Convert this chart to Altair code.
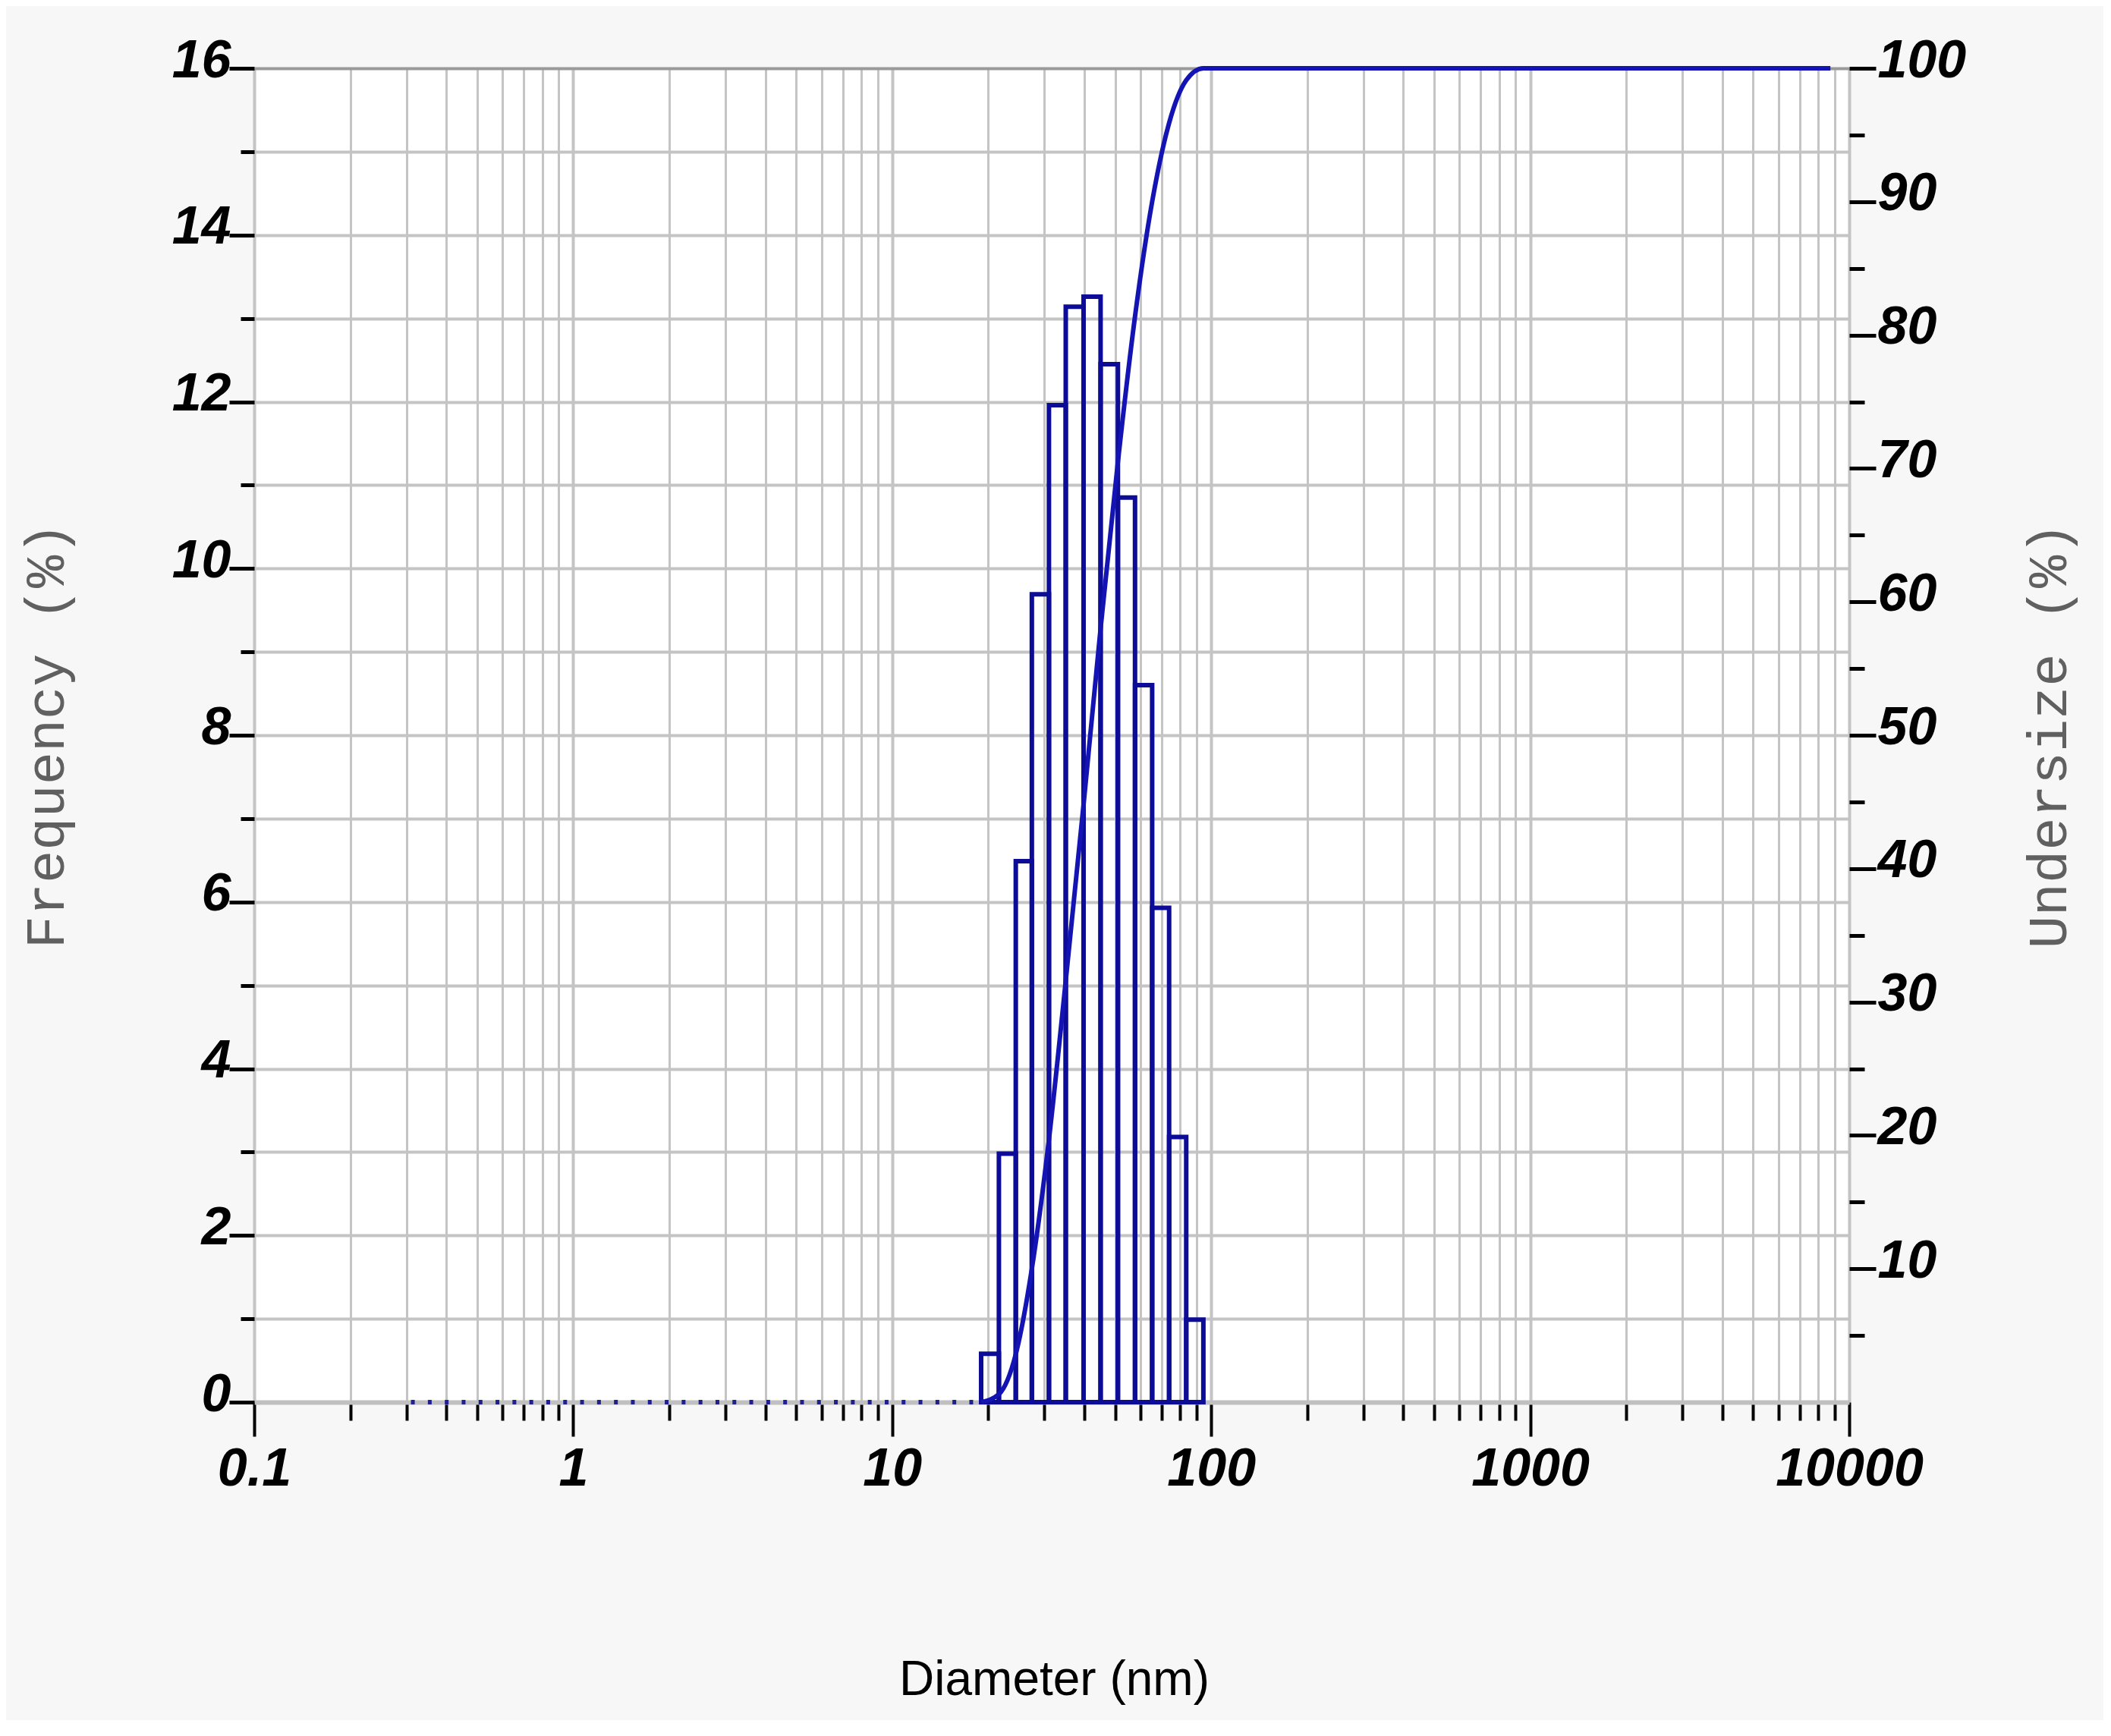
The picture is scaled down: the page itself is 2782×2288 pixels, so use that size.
import altair as alt
import pandas as pd

# ---- data ----
bin_lower = [19.0, 21.6, 24.4, 27.4, 31.0, 35.0, 39.8, 45.0, 51.0, 57.7, 65.3, 73.8, 83.5]
bin_upper = [21.6, 24.4, 27.4, 31.0, 35.0, 39.8, 45.0, 51.0, 57.7, 65.3, 73.8, 83.5, 94.5]
frequency = [0.58, 2.98, 6.49, 9.69, 11.96, 13.14, 13.26, 12.45, 10.85, 8.60, 5.93, 3.18, 0.99]

curve_diameter = [19.0, 21.6, 24.4, 27.4, 31.0, 35.0, 39.8, 45.0, 51.0, 57.7, 65.3, 73.8, 83.5, 94.5, 8730.0]
undersize = [0.0, 0.6, 3.6, 10.0, 19.7, 31.6, 44.8, 58.0, 70.5, 81.4, 90.0, 95.9, 99.1, 100.0, 100.0]

empty_start = [0.31]
empty_end = [19.0]

x_tick_values = [
    0.1, 0.2, 0.3, 0.4, 0.5, 0.6, 0.7, 0.8, 0.9,
    1, 2, 3, 4, 5, 6, 7, 8, 9,
    10, 20, 30, 40, 50, 60, 70, 80, 90,
    100, 200, 300, 400, 500, 600, 700, 800, 900,
    1000, 2000, 3000, 4000, 5000, 6000, 7000, 8000, 9000,
    10000,
]
left_tick_values = list(range(0, 17))
right_tick_values = [5, 10, 15, 20, 25, 30, 35, 40, 45, 50, 55, 60, 65, 70, 75, 80, 85, 90, 95, 100]

bars_df = pd.DataFrame({"lower": bin_lower, "upper": bin_upper, "freq": frequency})
curve_df = pd.DataFrame({"d": curve_diameter, "undersize": undersize})
empty_df = pd.DataFrame({"start": empty_start, "end": empty_end})

NUM_FONT = "Liberation Sans Narrow, Liberation Sans, Arial"
MONO_FONT = "Liberation Mono, DejaVu Sans Mono, monospace"
PLOT_W, PLOT_H = 2102, 1758
NUM_SIZE = 70

major_x = "indexof([0.1, 1, 10, 100, 1000, 10000], datum.value) >= 0"

x_scale = alt.Scale(type="log", domain=[0.1, 10000], nice=False)
x_axis = alt.Axis(
    values=x_tick_values,
    format="~g",
    labelExpr=major_x + " ? datum.label : ''",
    labelOverlap=False,
    labelFlush=False,
    labelLimit=600,
    labelFont=NUM_FONT,
    labelFontSize=NUM_SIZE,
    labelFontWeight="bold",
    labelFontStyle="italic",
    labelColor="black",
    labelPadding=9,
    labelBaseline="top",
    tickColor="black",
    tickWidth=4,
    tickSize={"condition": {"test": major_x, "value": 45}, "value": 24},
    grid=True,
    gridColor="#c4c4c4",
    gridWidth={"condition": {"test": major_x, "value": 4}, "value": 3},
    domain=True,
    domainColor="#c0c0c0",
    domainWidth=6,
    title="Diameter (nm)",
    titleFont=NUM_FONT,
    titleFontSize=64,
    titleFontWeight="normal",
    titleColor="black",
    titleBaseline="alphabetic",
    titleAlign="center",
    titleX=PLOT_W / 2 + 3,
    titleY=385,
)

left_axis = alt.Axis(
    orient="left",
    values=left_tick_values,
    format="d",
    labelExpr="datum.value % 2 == 0 ? datum.label : ''",
    labelOverlap=False,
    labelLimit=600,
    labelFont=NUM_FONT,
    labelFontSize=NUM_SIZE,
    labelFontWeight="bold",
    labelFontStyle="italic",
    labelColor="black",
    labelPadding=-2,
    labelBaseline="middle",
    labelOffset=-10,
    tickColor="black",
    tickWidth=5,
    tickSize={"condition": {"test": "datum.value % 2 == 0", "value": 33}, "value": 18},
    grid=True,
    gridColor={"condition": {"test": "datum.value == 16", "value": "#9a9a9a"}, "value": "#c4c4c4"},
    gridWidth=4,
    domain=False,
    title="Frequency (%)",
    titleFont=MONO_FONT,
    titleFontSize=72,
    titleFontWeight="normal",
    titleColor="#606060",
    titleAngle=270,
    titleBaseline="alphabetic",
    titleAlign="center",
    titleX=-252,
    titleY=PLOT_H / 2,
)

right_axis = alt.Axis(
    orient="right",
    values=right_tick_values,
    format="d",
    labelExpr="datum.value % 10 == 0 ? datum.label : ''",
    labelOverlap=False,
    labelLimit=600,
    labelFont=NUM_FONT,
    labelFontSize=NUM_SIZE,
    labelFontWeight="bold",
    labelFontStyle="italic",
    labelColor="black",
    labelPadding=2,
    labelBaseline="middle",
    labelOffset=-10,
    tickColor="black",
    tickWidth=5,
    tickSize={"condition": {"test": "datum.value % 10 == 0", "value": 35}, "value": 20},
    grid=False,
    domain=False,
    title="Undersize (%)",
    titleFont=MONO_FONT,
    titleFontSize=72,
    titleFontWeight="normal",
    titleColor="#606060",
    titleAngle=270,
    titleBaseline="alphabetic",
    titleAlign="center",
    titleX=285,
    titleY=PLOT_H / 2,
)

bars = alt.Chart(bars_df).mark_rect(
    fill="transparent", stroke="#0c0c96", strokeWidth=6
).encode(
    x=alt.X("lower:Q", scale=x_scale, axis=x_axis, title="Diameter (nm)"),
    x2="upper:Q",
    y=alt.Y("freq:Q", scale=alt.Scale(domain=[0, 16], nice=False), axis=left_axis, title="Frequency (%)"),
    y2=alt.Y2Datum(0),
)

empty_bins = alt.Chart(empty_df).mark_rule(
    stroke="#202090", strokeWidth=6, strokeDash=[5, 17.3], strokeCap="butt"
).encode(
    x=alt.X("start:Q", scale=x_scale, axis=x_axis, title="Diameter (nm)"),
    x2="end:Q",
    y=alt.Y(datum=0),
)

curve = alt.Chart(curve_df).mark_line(
    color="#1414b4", strokeWidth=6, interpolate="monotone"
).encode(
    x=alt.X("d:Q", scale=x_scale, axis=x_axis, title="Diameter (nm)"),
    y=alt.Y("undersize:Q", scale=alt.Scale(domain=[0, 100], nice=False), axis=right_axis, title="Undersize (%)"),
)

chart = alt.layer(
    alt.layer(bars, empty_bins),
    curve,
).resolve_scale(
    y="independent"
).properties(
    width=PLOT_W,
    height=PLOT_H,
    background="#f7f7f7",
    padding={"left": 327, "top": 82, "right": 335, "bottom": 419},
    autosize=alt.AutoSizeParams(type="none"),
).configure_view(
    fill="white",
    stroke="transparent",
)

chart.save("out.html", embed_options={"renderer": "svg", "actions": False})
